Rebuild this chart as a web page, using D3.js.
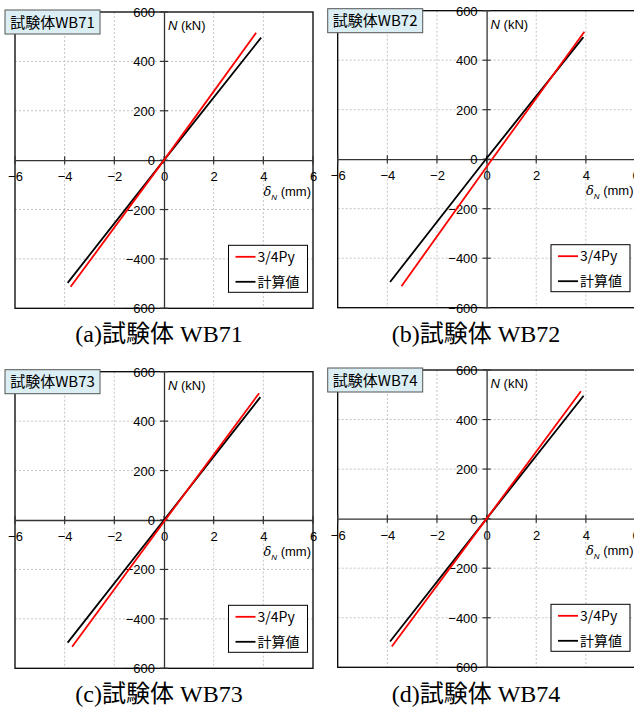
<!DOCTYPE html>
<html><head><meta charset="utf-8">
<script src="https://cdn.jsdelivr.net/npm/d3@7"></script>
<style>html,body{margin:0;padding:0;background:#fff;}svg{display:block;}</style>
</head><body>
<svg id="chart" width="634" height="715"></svg>
<script>
// ---- data ----
const specimens = ["WB71", "WB72", "WB73", "WB74"];
const captions = ["(a)試験体 WB71", "(b)試験体 WB72", "(c)試験体 WB73", "(d)試験体 WB74"];
const seriesNames = ["3/4Py", "計算値"];
const xTicks = [-6, -4, -2, 0, 2, 4, 6];
const yTicks = [-600, -400, -200, 0, 200, 400, 600];
// 3/4Py (red) : delta_N (mm), N (kN)
const redX = [[-3.76, 0.0, 3.71], [-3.43, 0.22, 3.94], [-3.70, 0.05, 3.83], [-3.82, 0.0, 3.80]];
const redY = [[-513, 0, 516], [-513, 0, 515], [-513, 0, 513], [-516, 0, 514]];
// 計算値 (black)
const blkX = [[-3.88, 0.0, 3.91], [-3.89, -0.03, 3.90], [-3.88, 0.0, 3.88], [-3.89, 0.0, 3.91]];
const blkY = [[-497, 0, 496], [-496, 0, 493], [-496, 0, 497], [-496, 0, 496]];

// ---- layout ----
const panels = [
  {x0: 15, x1: 313, y0: 12, y1: 308.3, cx: 159, cy: 342},
  {x0: 337.7, x1: 635.5, y0: 10.7, y1: 307.7, cx: 476, cy: 342},
  {x0: 15, x1: 313, y0: 371.7, y1: 668.3, cx: 159, cy: 701.5},
  {x0: 337.7, x1: 635.5, y0: 370, y1: 667.3, cx: 476, cy: 702}
];
const colors = ["#ff0000", "#000000"];
const tickFont = "'Liberation Sans', Arial, sans-serif";
const jpFont = "'Noto Sans CJK JP', 'Liberation Sans', sans-serif";
const fmt = v => (v < 0 ? "\u2212" + Math.abs(v) : String(v));

const svg = d3.select("#chart");

panels.forEach((p, i) => {
  const x = d3.scaleLinear().domain([-6, 6]).range([p.x0, p.x1]);
  const y = d3.scaleLinear().domain([-600, 600]).range([p.y1, p.y0]);
  const g = svg.append("g");

  // grid
  g.selectAll(".gx").data(xTicks.filter(t => t !== 0 && Math.abs(t) !== 6)).enter().append("line")
    .attr("x1", d => x(d)).attr("x2", d => x(d)).attr("y1", p.y0).attr("y2", p.y1)
    .attr("stroke", "#c4c4c4").attr("stroke-width", 1).attr("stroke-dasharray", "2,2");
  g.selectAll(".gy").data(yTicks.filter(t => t !== 0 && Math.abs(t) !== 600)).enter().append("line")
    .attr("x1", p.x0).attr("x2", p.x1).attr("y1", d => y(d)).attr("y2", d => y(d))
    .attr("stroke", "#c4c4c4").attr("stroke-width", 1).attr("stroke-dasharray", "2,2");

  // frame
  g.append("rect").attr("x", p.x0).attr("y", p.y0).attr("width", p.x1 - p.x0).attr("height", p.y1 - p.y0)
    .attr("fill", "none").attr("stroke", "#000").attr("stroke-width", 1.3);

  // axes through origin
  const xAxis = d3.axisBottom(x).tickValues(xTicks).tickSize(0).tickFormat(fmt);
  const yAxis = d3.axisLeft(y).tickValues(yTicks).tickSize(0).tickFormat(fmt);

  // tick marks (crossing)
  g.selectAll(".tx").data(xTicks).enter().append("line")
    .attr("x1", d => x(d)).attr("x2", d => x(d)).attr("y1", y(0) - 4).attr("y2", y(0) + 4)
    .attr("stroke", "#333").attr("stroke-width", 1.2);
  g.selectAll(".ty").data(yTicks).enter().append("line")
    .attr("x1", x(0) - 4).attr("x2", x(0) + 4).attr("y1", d => y(d)).attr("y2", d => y(d))
    .attr("stroke", "#333").attr("stroke-width", 1.2);

  const ax = g.append("g").attr("transform", `translate(0,${y(0)})`).call(xAxis);
  ax.select(".domain").attr("stroke", "#333").attr("stroke-width", 1.3);
  ax.selectAll("text").attr("dy", "0").attr("y", 21).style("font-family", tickFont).style("font-size", "13px").attr("fill", "#000");

  const ay = g.append("g").attr("transform", `translate(${x(0)},0)`).call(yAxis);
  ay.select(".domain").attr("stroke", "#333").attr("stroke-width", 1.3);
  ay.selectAll("text").attr("x", -9).attr("dy", "0.35em").style("font-family", tickFont).style("font-size", "13px").attr("fill", "#000");

  // data lines
  const line = d3.line().x(d => x(d[0])).y(d => y(d[1]));
  const blk = blkX[i].map((v, k) => [v, blkY[i][k]]);
  const red = redX[i].map((v, k) => [v, redY[i][k]]);
  g.append("path").datum(blk).attr("d", line).attr("fill", "none").attr("stroke", colors[1]).attr("stroke-width", 1.8);
  g.append("path").datum(red).attr("d", line).attr("fill", "none").attr("stroke", colors[0]).attr("stroke-width", 1.8);

  // axis titles
  const nt = g.append("text").attr("x", x(0) + 4).attr("y", p.y0 + 18)
    .style("font-family", tickFont).style("font-size", "13px");
  nt.append("tspan").text("N").style("font-style", "italic");
  nt.append("tspan").text(" (kN)").attr("dx", 0);

  const dt = g.append("text").attr("x", p.x1 - 2).attr("y", y(0) + 36).attr("text-anchor", "end")
    .style("font-family", tickFont).style("font-size", "13px");
  dt.append("tspan").text("δ").style("font-style", "italic").style("font-family", "'DejaVu Serif', serif").style("font-size", "13px");
  dt.append("tspan").text("N").style("font-style", "italic").style("font-size", "8px").attr("dy", 4);
  dt.append("tspan").text(" (mm)").attr("dy", -4);

  // title box
  const bx = p.x0 - 10, by = p.y0 - 2;
  g.append("rect").attr("x", bx).attr("y", by).attr("width", 95).attr("height", 24)
    .attr("fill", "#dbeef4").attr("stroke", "#555").attr("stroke-width", 1);
  g.append("text").attr("x", bx + 47.5).attr("y", by + 17.5).attr("text-anchor", "middle")
    .style("font-family", jpFont).style("font-size", "15px").attr("fill", "#000")
    .text("試験体" + specimens[i]);

  // legend
  const lw = 79, lh = 47;
  const lx = p.x1 - 5.5 - lw, ly = p.y1 - 16 - lh;
  const lg = g.append("g");
  lg.append("rect").attr("x", lx).attr("y", ly).attr("width", lw).attr("height", lh)
    .attr("fill", "#fff").attr("stroke", "#000").attr("stroke-width", 1);
  seriesNames.forEach((s, k) => {
    const yy = ly + 11.5 + k * 25;
    lg.append("line").attr("x1", lx + 7).attr("x2", lx + 27).attr("y1", yy).attr("y2", yy)
      .attr("stroke", colors[k]).attr("stroke-width", 1.8);
    lg.append("text").attr("x", lx + 29).attr("y", yy + 5).style("font-family", jpFont)
      .style("font-size", "14px").attr("fill", "#000").text(s);
  });

  // caption
  svg.append("text").attr("x", p.cx).attr("y", p.cy).attr("text-anchor", "middle")
    .style("font-family", "'Liberation Serif', 'Times New Roman', 'Noto Sans CJK JP', serif")
    .style("font-size", "24px").attr("fill", "#000").text(captions[i]);
});
</script>
</body></html>
